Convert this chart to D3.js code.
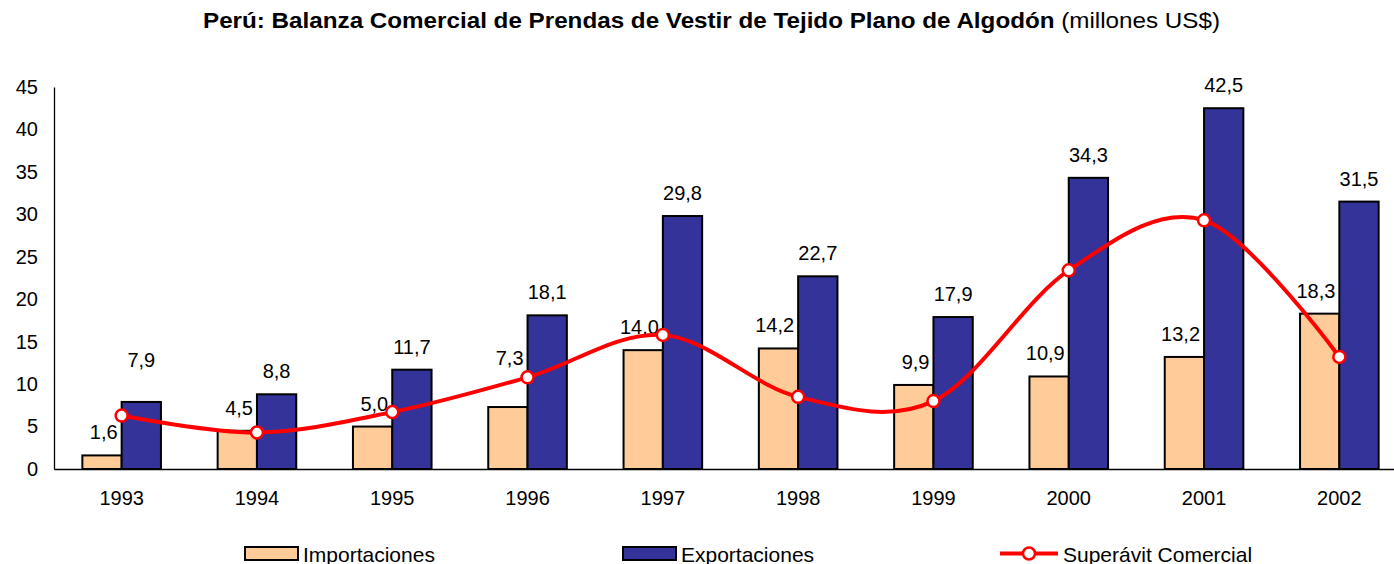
<!DOCTYPE html>
<html>
<head>
<meta charset="utf-8">
<script src="https://cdn.jsdelivr.net/npm/d3@7"></script>
<style>
  body { margin: 0; background: #fff; }
  text { font-family: "Liberation Sans", Arial, sans-serif; fill: #000; }
</style>
</head>
<body>
<div id="chart"></div>
<script>
var years = ["1993", "1994", "1995", "1996", "1997", "1998", "1999", "2000", "2001", "2002"];
var importaciones = [1.6, 4.5, 5.0, 7.3, 14.0, 14.2, 9.9, 10.9, 13.2, 18.3];
var exportaciones = [7.9, 8.8, 11.7, 18.1, 29.8, 22.7, 17.9, 34.3, 42.5, 31.5];
var superavit = [6.3, 4.3, 6.7, 10.8, 15.8, 8.5, 8.0, 23.4, 29.3, 13.2];
var yTicks = [0, 5, 10, 15, 20, 25, 30, 35, 40, 45];

var fmt = function (v) { return d3.format(".1f")(v).replace(".", ","); };

drawChart();

function drawChart() {
  var w = 1394;
  var h = 564;
  var margin = {top: 87, right: -13, bottom: 95, left: 54};
  var width = w - margin.left - margin.right;
  var height = h - margin.top - margin.bottom;

  var svg = d3.select("#chart").append("svg")
    .attr("width", w)
    .attr("height", h);

  // title (the original is drawn a bit wider than plain Arial)
  var title = svg.append("text")
    .attr("x", 203)
    .attr("y", 28)
    .attr("textLength", 1017)
    .attr("lengthAdjust", "spacingAndGlyphs")
    .style("font-size", "22px");
  title.append("tspan").style("font-weight", "bold")
    .text("Perú: Balanza Comercial de Prendas de Vestir de Tejido Plano de Algodón");
  title.append("tspan").text(" (millones US$)");

  var g = svg.append("g")
    .attr("transform", "translate(" + margin.left + "," + margin.top + ")");

  var x = d3.scaleBand()
    .domain(years)
    .range([0, width])
    .padding(0);
  var bw = 39.3;
  var y = d3.scaleLinear()
    .domain([0, 45])
    .range([height, 0]);

  var yAxis = g.append("g")
    .call(d3.axisLeft(y).tickValues(yTicks).tickSize(0).tickPadding(16));
  yAxis.selectAll("text").style("font-size", "20px");
  yAxis.select(".domain").attr("stroke", "#000").attr("stroke-width", 1.3);

  var xAxis = g.append("g")
    .attr("transform", "translate(0," + height + ")")
    .call(d3.axisBottom(x).tickSize(0).tickPadding(22));
  xAxis.selectAll("text").style("font-size", "20px");
  xAxis.select(".domain").attr("stroke", "#000").attr("stroke-width", 1.3);

  var cx = function (i) { return x(years[i]) + x.bandwidth() / 2; };

  // bars
  g.selectAll(".imp").data(importaciones).enter().append("rect")
    .attr("class", "imp")
    .attr("x", function (d, i) { return cx(i) - bw; })
    .attr("y", function (d) { return y(d); })
    .attr("width", bw)
    .attr("height", function (d) { return height - y(d); })
    .attr("fill", "#FFCC99")
    .attr("stroke", "#000")
    .attr("stroke-width", 2);

  g.selectAll(".exp").data(exportaciones).enter().append("rect")
    .attr("class", "exp")
    .attr("x", function (d, i) { return cx(i); })
    .attr("y", function (d) { return y(d); })
    .attr("width", bw)
    .attr("height", function (d) { return height - y(d); })
    .attr("fill", "#333399")
    .attr("stroke", "#000")
    .attr("stroke-width", 2);

  // labels, a couple moved up so the line does not hide them
  var liftImp = {"1996": 26};
  var liftExp = {"1993": 19};
  g.selectAll(".impLab").data(importaciones).enter().append("text")
    .attr("x", function (d, i) { return cx(i) - 4; })
    .attr("y", function (d, i) { return y(d) - 16 - (liftImp[years[i]] || 0); })
    .attr("text-anchor", "end")
    .style("font-size", "20px")
    .text(fmt);

  g.selectAll(".expLab").data(exportaciones).enter().append("text")
    .attr("x", function (d, i) { return cx(i) + bw / 2; })
    .attr("y", function (d, i) { return y(d) - 16 - (liftExp[years[i]] || 0); })
    .attr("text-anchor", "middle")
    .style("font-size", "20px")
    .text(fmt);

  // superavit line
  var line = d3.line()
    .x(function (d, i) { return cx(i); })
    .y(function (d) { return y(d); })
    .curve(d3.curveCardinal);

  g.append("path")
    .datum(superavit)
    .attr("d", line)
    .attr("fill", "none")
    .attr("stroke", "#FF0000")
    .attr("stroke-width", 4);

  g.selectAll(".pt").data(superavit).enter().append("circle")
    .attr("cx", function (d, i) { return cx(i); })
    .attr("cy", function (d) { return y(d); })
    .attr("r", 6)
    .attr("fill", "#fff")
    .attr("stroke", "#FF0000")
    .attr("stroke-width", 2.5);

  // legend
  var leg = svg.append("g").attr("transform", "translate(0,553.5)");
  var items = [
    {name: "Importaciones", x: 245, color: "#FFCC99"},
    {name: "Exportaciones", x: 623, color: "#333399"}
  ];
  items.forEach(function (it) {
    leg.append("rect")
      .attr("x", it.x).attr("y", -6.5)
      .attr("width", 53).attr("height", 13)
      .attr("fill", it.color)
      .attr("stroke", "#000")
      .attr("stroke-width", 2);
    leg.append("text")
      .attr("x", it.x + 58).attr("y", 8)
      .style("font-size", "21px")
      .text(it.name);
  });
  leg.append("line")
    .attr("x1", 1000).attr("x2", 1058)
    .attr("stroke", "#FF0000").attr("stroke-width", 4);
  leg.append("circle")
    .attr("cx", 1029).attr("r", 6)
    .attr("fill", "#fff").attr("stroke", "#FF0000").attr("stroke-width", 2.5);
  leg.append("text")
    .attr("x", 1063).attr("y", 8)
    .style("font-size", "21px")
    .text("Superávit Comercial");
}
</script>
</body>
</html>
